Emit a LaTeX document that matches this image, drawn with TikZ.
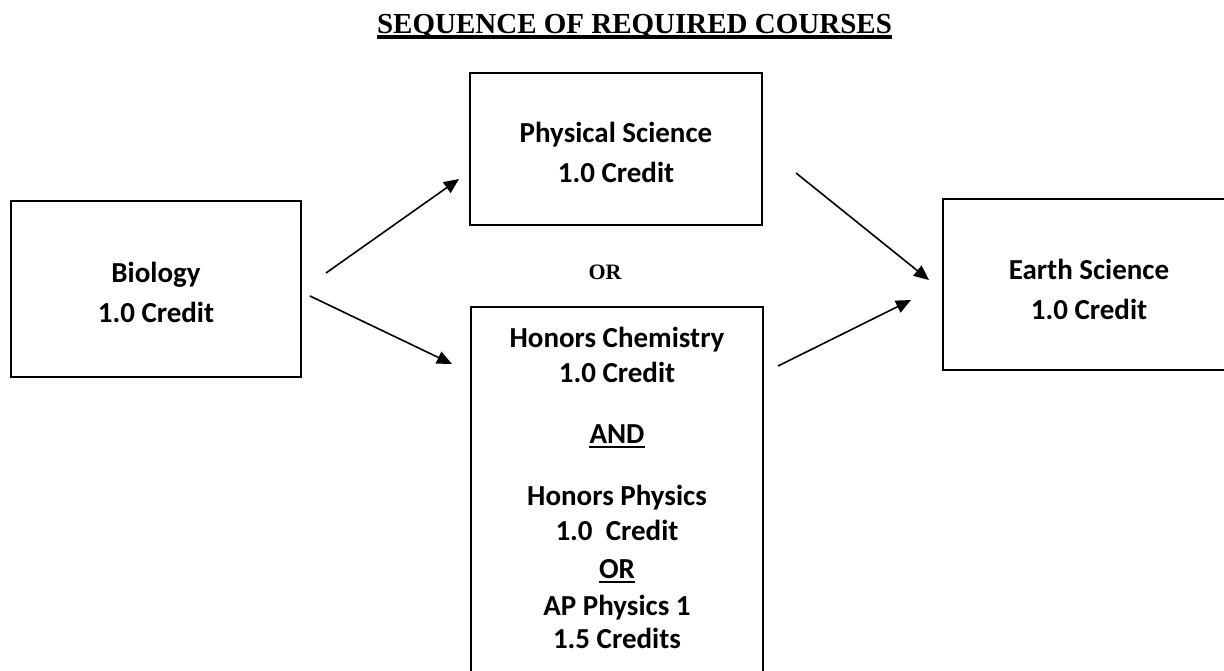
\documentclass[tikz,border=0pt]{standalone}
\usepackage{fontspec}
\setmainfont{Carlito}
\newfontfamily\tnr{Liberation Serif}
\usetikzlibrary{arrows.meta}
\tikzset{
  box/.style={draw=black, line width=2.6pt, fill=none, inner sep=0pt},
  lbl/.style={inner sep=0pt, anchor=base, font=\fontsize{29}{35}\selectfont\bfseries},
  orlbl/.style={inner sep=0pt, anchor=base, font=\fontsize{22}{26}\selectfont\tnr\bfseries},
  ttl/.style={inner sep=0pt, anchor=base, font=\fontsize{29}{35}\selectfont\tnr\bfseries},
  conn/.style={line width=1.6pt, -{Triangle[length=15pt,width=13pt]}},
  ul/.style={line width=2.2pt}
}
\begin{document}
\begin{tikzpicture}[x=1pt,y=-1pt]
\useasboundingbox (0,0) rectangle (1224,670);
\clip (0,0) rectangle (1224,670);
\fill[white] (0,0) rectangle (1224,670);
% title
\node[ttl] (title) at (634.5,33) {SEQUENCE OF REQUIRED COURSES};
\draw[line width=3.6pt] ([yshift=-3.8pt]title.base west) -- ([yshift=-3.8pt]title.base east);
% boxes
\node[box, minimum width=290pt, minimum height=176pt] (bio) at (156,289) {};
\node[box, minimum width=292pt, minimum height=152pt] (phys) at (616,149) {};
\node[box, minimum width=292pt, minimum height=383pt] (hon) at (617,498.5) {};
\node[box, minimum width=292pt, minimum height=171pt] (earth) at (1089,284.5) {};
% texts
\node[lbl] (bio1) at (156,282) {Biology};
\node[lbl] (bio2) at (156,322) {1.0 Credit};
\node[lbl] (ph1) at (616,142) {Physical Science};
\node[lbl] (ph2) at (616,182) {1.0 Credit};
\node[orlbl] (or1) at (605,279) {OR};
\node[lbl] (ea1) at (1089,279) {Earth Science};
\node[lbl] (ea2) at (1089,319) {1.0 Credit};
\node[lbl] (h1) at (617,347) {Honors Chemistry};
\node[lbl] (h2) at (617,382) {1.0 Credit};
\node[lbl] (h3) at (617,443) {AND};
\draw[ul] ([yshift=-4pt]h3.base west) -- ([yshift=-4pt]h3.base east);
\node[lbl] (h4) at (617,505) {Honors Physics};
\node[lbl] (h5) at (617,540) {1.0\ \ Credit};
\node[lbl] (h6) at (617,578) {OR};
\draw[ul] ([yshift=-4pt]h6.base west) -- ([yshift=-4pt]h6.base east);
\node[lbl] (h7) at (617,615) {AP Physics 1};
\node[lbl] (h8) at (617,648) {1.5 Credits};
% connectors
\coordinate (a1s) at (326,273);
\coordinate (a1e) at (459,179);
\coordinate (a2s) at (310,296);
\coordinate (a2e) at (452,364);
\coordinate (a3s) at (796,173);
\coordinate (a3e) at (929,280);
\coordinate (a4s) at (778,366);
\coordinate (a4e) at (911,300);
\draw[conn] (a1s) -- (a1e);
\draw[conn] (a2s) -- (a2e);
\draw[conn] (a3s) -- (a3e);
\draw[conn] (a4s) -- (a4e);
\end{tikzpicture}
\end{document}
